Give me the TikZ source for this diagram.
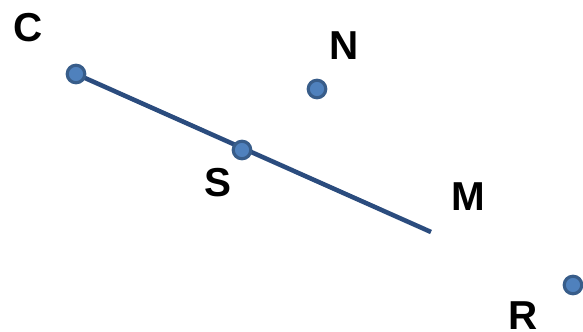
\documentclass[tikz,border=0pt]{standalone}
\usepackage{fontspec}
\setmainfont{Liberation Sans}
\usepackage{xcolor}
\usepackage{tikz}
\usetikzlibrary{arrows.meta,calc}
\definecolor{linedark}{HTML}{2B4C7E}
\definecolor{dotring}{HTML}{385D8A}
\definecolor{dotfill}{HTML}{4F81BD}
\tikzset{
  pt/.style={circle,draw=dotring,fill=dotfill,line width=1.8pt,inner sep=0pt,minimum size=10pt},
  lbl/.style={font=\fontsize{23}{27}\selectfont\bfseries,text=black}
}

\begin{document}
\begin{tikzpicture}[x=0.02cm,y=-0.02cm]
  \useasboundingbox (0,0) rectangle (583,332);
  % segment C--M
  \coordinate (pc) at (76,74);
  \coordinate (m) at (431,232);
  \draw[linedark,line width=2.6pt] (pc) -- (m);
  % points
  \node[pt] (c) at (pc) {};
  \node[pt] (n) at (317,89) {};
  \node[pt] (s) at (242,150) {};
  \node[pt] (r) at (573,285) {};
  % labels
  \node[lbl] (lc) at (28,28) {C};
  \node[lbl] (ln) at (344,46) {N};
  \node[lbl] (ls) at (218,183) {S};
  \node[lbl] (lm) at (468,197) {M};
  \node[lbl] (lr) at (523,316) {R};
\end{tikzpicture}
\end{document}
